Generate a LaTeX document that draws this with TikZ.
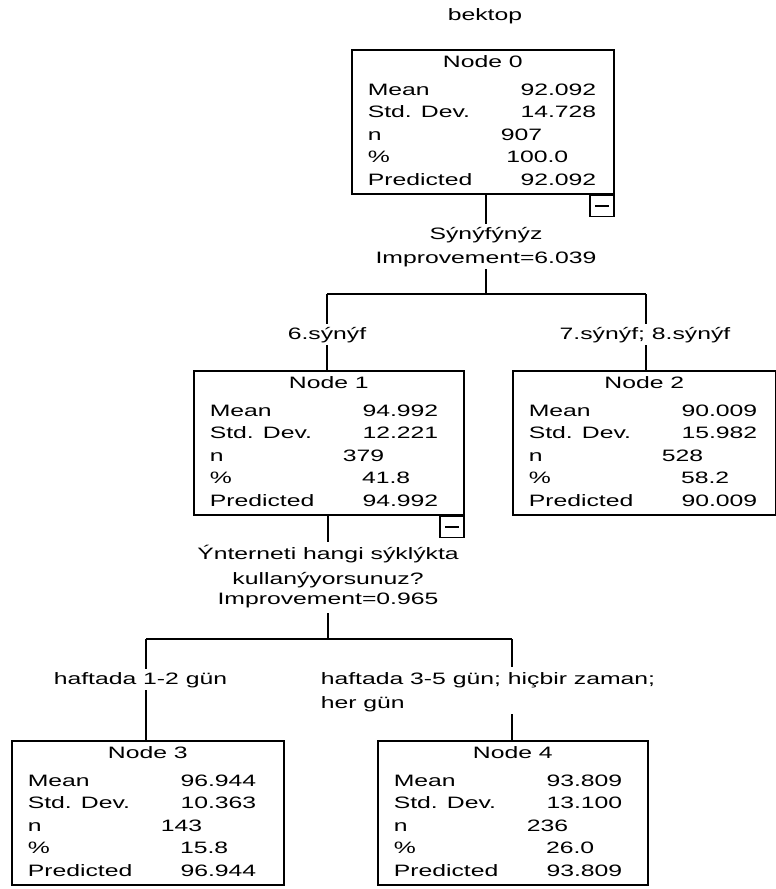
\documentclass[tikz,border=0pt]{standalone}
\usepackage{fontspec}
\usetikzlibrary{calc}
\newfontfamily\wf[FakeStretch=1.5]{Liberation Sans}
\newcommand\treebox[5]{% name, left, top, width, title
  \node[box, minimum width=#4pt] (#1) at (#2,#3) {};
  \node[ttl] (#1t) at ($(#1.north)+(0,18)$) {#5};
}
\newcommand\treestats[6]{% name, mean, sd, n, pct, pred
  \node[lbl] (#1l1) at ($(#1.north west)+(16,46)$) {Mean};
  \node[lbl] (#1l2) at ($(#1.north west)+(16,68.5)$) {Std. Dev.};
  \node[lbl] (#1l3) at ($(#1.north west)+(16,91)$) {n};
  \node[lbl] (#1l4) at ($(#1.north west)+(16,113.5)$) {\%};
  \node[lbl] (#1l5) at ($(#1.north west)+(16,136)$) {Predicted};
  \node[val] (#1v1) at ($(#1.north west)+(246,46)$) {#2};
  \node[val] (#1v2) at ($(#1.north west)+(246,68.5)$) {#3};
  \node[val] (#1v3) at ($(#1.north west)+(192,91)$) {#4};
  \node[val] (#1v4) at ($(#1.north west)+(218,113.5)$) {#5};
  \node[val] (#1v5) at ($(#1.north west)+(246,136)$) {#6};
}
\begin{document}
\begin{tikzpicture}[x=1pt,y=-1pt,line width=1.6pt,
  txt/.style={font=\wf\fontsize{16.5}{22}\selectfont, inner sep=0pt},
  box/.style={draw, rectangle, minimum height=144pt, inner sep=0pt, anchor=north west},
  lbl/.style={txt, anchor=base west},
  val/.style={txt, anchor=base east},
  ttl/.style={txt, anchor=base},
  split/.style={txt, anchor=base, inner sep=2pt},
  edgelbl/.style={txt, inner sep=2pt},
  mbox/.style={draw, rectangle, minimum width=24pt, minimum height=21pt, inner sep=0pt, anchor=north east}]
\useasboundingbox (0,0) rectangle (776,889);

\node[ttl] (title) at (485,20) {bektop};

\treebox{n0}{351}{49}{262}{Node 0}
\treestats{n0}{92.092}{14.728}{907}{100.0}{92.092}
\treebox{n1}{193}{370}{270}{Node 1}
\treestats{n1}{94.992}{12.221}{379}{41.8}{94.992}
\treebox{n2}{512}{370}{263}{Node 2}
\treestats{n2}{90.009}{15.982}{528}{58.2}{90.009}
\treebox{n3}{11}{740}{272}{Node 3}
\treestats{n3}{96.944}{10.363}{143}{15.8}{96.944}
\treebox{n4}{377}{740}{270}{Node 4}
\treestats{n4}{93.809}{13.100}{236}{26.0}{93.809}

% collapse boxes
\node[mbox] (m0) at (n0.south east) {};
\draw[line width=1.3pt] ($(m0.center)+(-7,0)$) -- ($(m0.center)+(7,0)$);
\node[mbox] (m1) at (n1.south east) {};
\draw[line width=1.3pt] ($(m1.center)+(-7,0)$) -- ($(m1.center)+(7,0)$);

% first split
\node[split] (s0a) at (486,239) {Sýnýfýnýz};
\node[split] (s0b) at (486,263) {Improvement=6.039};
\coordinate (j0) at (486,294);
\coordinate (jl) at (327,294);
\coordinate (jr) at (646,294);
\node[edgelbl, anchor=base] (e1) at (327,339) {6.sýnýf};
\node[edgelbl, anchor=base] (e2) at (645,339) {7.sýnýf; 8.sýnýf};
\draw (n0.south -| s0a) -- (s0a.north);
\draw (s0b.south) -- (j0);
\draw (jl) -- (jr);
\draw (jl) -- (jl |- e1.north);
\draw (jr) -- (jr |- e2.north);
\draw (jl |- e1.south) -- (n1.north -| jl);
\draw (jr |- e2.south) -- (n2.north -| jr);

% second split
\node[split] (s1a) at (328,559) {Ýnterneti hangi sýklýkta};
\node[split] (s1b) at (328,584) {kullanýyorsunuz?};
\node[split] (s1c) at (328,604) {Improvement=0.965};
\coordinate (k0) at (328,639);
\coordinate (kl) at (146,639);
\coordinate (kr) at (512,639);
\node[edgelbl, anchor=base] (e3) at (140.5,684) {haftada 1-2 gün};
\node[edgelbl, anchor=base west, inner sep=0pt] (e4a) at (320,684) {haftada 3-5 gün; hiçbir zaman;};
\node[edgelbl, anchor=base west, inner sep=0pt] (e4b) at (320,708) {her gün};
\draw (n1.south -| s1a) -- (s1a.north);
\draw ($(s1c.south)+(0,3)$) -- (k0);
\draw (kl) -- (kr);
\draw (kl) -- (kl |- e3.north);
\draw (kr) -- ($(kr |- e4a.north)+(0,-4)$);
\draw (kl |- e3.south) -- (n3.north -| kl);
\draw ($(kr |- e4b.south)+(0,2)$) -- (n4.north -| kr);
\end{tikzpicture}
\end{document}
